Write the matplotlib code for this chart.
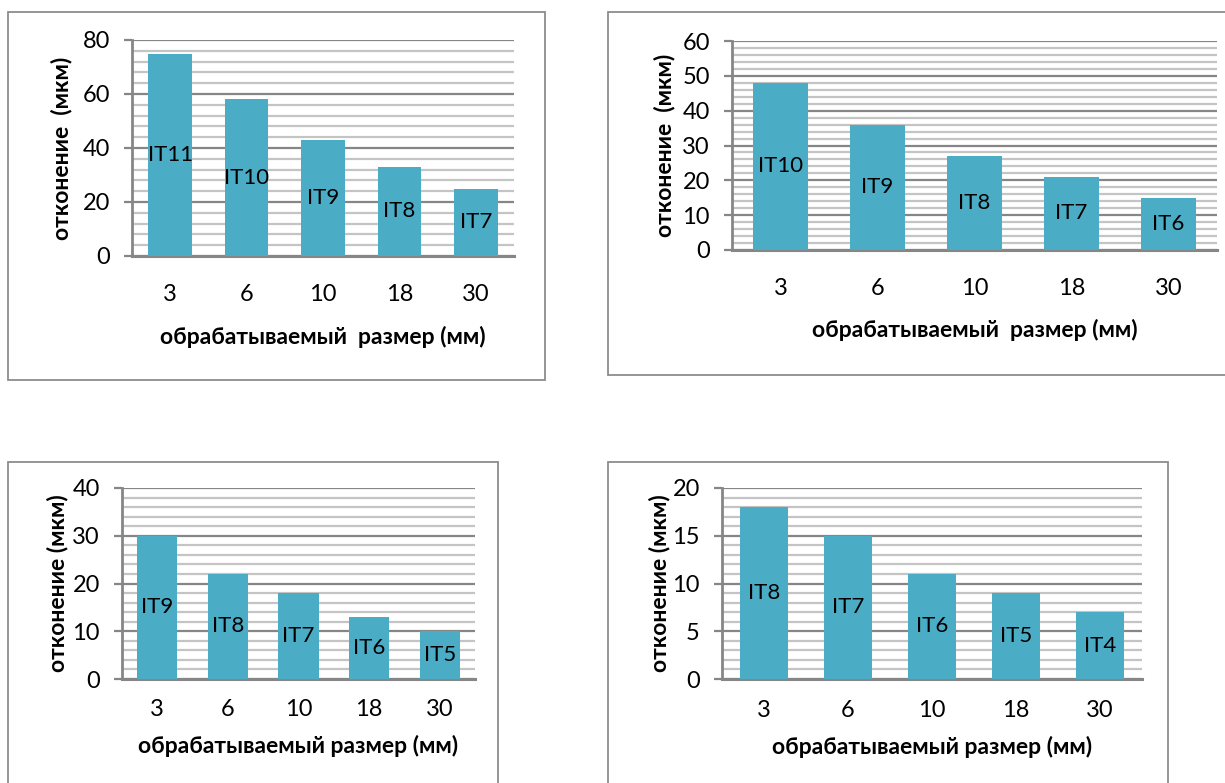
import numpy as np
import matplotlib.pyplot as plt
from matplotlib.patches import Rectangle
from matplotlib.ticker import MultipleLocator

plt.rcParams['font.family'] = ['Lato', 'DejaVu Sans']

# размеры (мм) и допуски (мкм) по квалитетам
sizes = ['3', '6', '10', '18', '30']

dev_a = [75, 58, 43, 33, 25]
grades_a = ['IT11', 'IT10', 'IT9', 'IT8', 'IT7']

dev_b = [48, 36, 27, 21, 15]
grades_b = ['IT10', 'IT9', 'IT8', 'IT7', 'IT6']

dev_c = [30, 22, 18, 13, 10]
grades_c = ['IT9', 'IT8', 'IT7', 'IT6', 'IT5']

dev_d = [18, 15, 11, 9, 7]
grades_d = ['IT8', 'IT7', 'IT6', 'IT5', 'IT4']

W, H = 1225, 783
fig = plt.figure(figsize=(W / 100, H / 100), dpi=100)

BAR = '#4bacc6'
MAJ = '#868686'
MIN = '#c4c4c4'


def px_rect(l, t, r, b):
    return [l / W, 1 - b / H, (r - l) / W, (b - t) / H]


def frame(l, t, r, b):
    fig.patches.append(Rectangle((l / W, 1 - b / H), (r - l) / W, (b - t) / H,
                                 transform=fig.transFigure, fill=False,
                                 edgecolor='#8c8c8c', lw=1.3))


def chart(rect, box, vals, grades, ymax, major, minor, xlab, ylab,
          tick_y, lab_y, ylab_x):
    frame(*box)
    l, t, r, b = rect
    ax = fig.add_axes(px_rect(*rect))
    x = np.arange(len(sizes))
    bars = ax.bar(x, vals, width=0.57, color=BAR, zorder=3)
    ax.bar_label(bars, labels=grades, label_type='center', fontsize=16,
                 color='black')
    ax.set_xlim(-0.5, len(sizes) - 0.5)
    ax.set_ylim(0, ymax)
    ax.yaxis.set_major_locator(MultipleLocator(major))
    ax.yaxis.set_minor_locator(MultipleLocator(minor))
    ax.grid(axis='y', which='minor', color=MIN, lw=1.6, zorder=1)
    ax.grid(axis='y', which='major', color=MAJ, lw=1.6, zorder=2)
    ax.set_xticks(x)
    ax.set_xticklabels(sizes, fontsize=17)
    ax.tick_params(axis='x', length=0, pad=(tick_y - b) * 0.72 - 8)
    ax.tick_params(axis='y', which='major', length=6, width=1.6, color=MAJ,
                   labelsize=17, pad=10)
    ax.tick_params(axis='y', which='minor', length=0)
    for s in ['top', 'right']:
        ax.spines[s].set_visible(False)
    ax.spines['left'].set_color(MAJ)
    ax.spines['left'].set_linewidth(2)
    ax.spines['bottom'].set_color(MAJ)
    ax.spines['bottom'].set_linewidth(2.2)
    ax.set_xlabel(xlab, fontsize=16.5, fontweight='bold')
    ax.xaxis.set_label_coords(0.5, -(lab_y - b) / (b - t))
    ax.xaxis.label.set_va('center')
    ax.set_ylabel(ylab, fontsize=16.5, fontweight='bold')
    ax.yaxis.set_label_coords(-(l - ylab_x) / (r - l), 0.5)
    ax.yaxis.label.set_va('center')
    return ax


chart((132, 40, 514, 256), (8, 12, 545, 380), dev_a, grades_a, 80, 20, 4,
      'обрабатываемый  размер (мм)', 'отконение  (мкм)', 295, 337, 62)
chart((732, 41, 1217, 250), (608, 12, 1226, 375), dev_b, grades_b, 60, 10, 2,
      'обрабатываемый  размер (мм)', 'отконение  (мкм)', 289, 330, 665)
chart((122, 488, 475, 679), (8, 462, 498, 790), dev_c, grades_c, 40, 10, 2,
      'обрабатываемый размер (мм)', 'отконение (мкм)', 710, 746, 58)
chart((722, 488, 1142, 679), (608, 462, 1168, 790), dev_d, grades_d, 20, 5, 1,
      'обрабатываемый размер (мм)', 'отконение (мкм)', 711, 747, 660)

fig.savefig('out.png', dpi=100)
